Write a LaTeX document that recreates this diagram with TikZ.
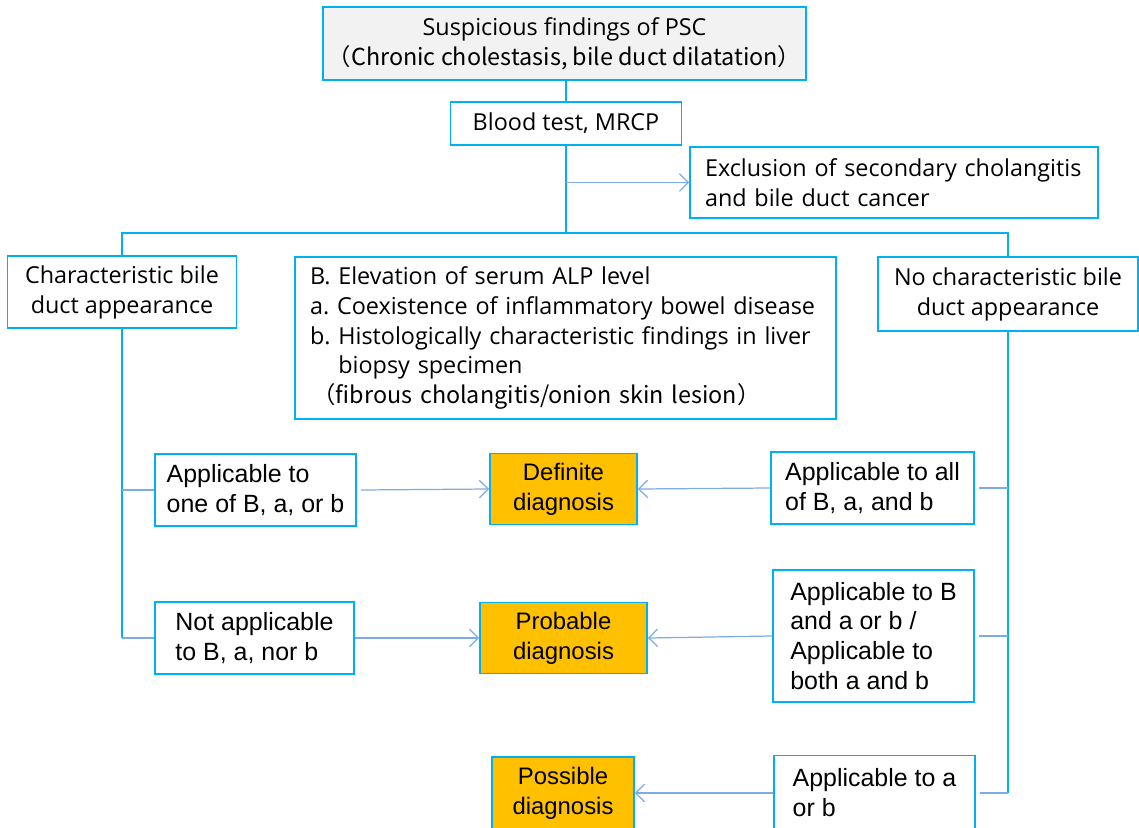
\documentclass[tikz,border=0pt]{standalone}
\usepackage{fontspec}
\setmainfont{Open Sans}
\newfontfamily\arialfont{Liberation Sans}
\newfontfamily\cjk{Noto Sans CJK JP}
\usetikzlibrary{arrows.meta, positioning}
\definecolor{pscblue}{RGB}{0,176,240}
\definecolor{pscarrow}{RGB}{125,172,228}
\definecolor{pscgray}{RGB}{242,242,242}
\definecolor{pscorange}{RGB}{255,192,0}
\frenchspacing

\begin{document}
\begin{tikzpicture}[
    x=0.02cm, y=-0.02cm,
    >={Straight Barb[length=5pt,width=10pt]},
    every node/.style={font=\fontsize{13.3}{17}\selectfont},
    stepbox/.style={rectangle, draw=pscblue, line width=1.1pt, fill=white,
        align=center, inner sep=0pt},
    topbox/.style={stepbox, fill=pscgray},
    leftbox/.style={stepbox, align=left, inner xsep=0.3cm},
    arialbox/.style={stepbox, align=left,
        font=\arialfont\fontsize{14.2}{17}\selectfont},
    diagbox/.style={stepbox, fill=pscorange,
        font=\arialfont\fontsize{13.6}{17}\selectfont},
    trunk/.style={pscblue, line width=1.1pt},
    branch/.style={pscarrow, line width=0.7pt},
    arrow/.style={->, pscarrow, line width=0.7pt},
]
\useasboundingbox (0,0) rectangle (1139,828);

% === WORK-UP ===
\node[topbox, minimum width=9.66cm, minimum height=1.46cm] (suspicious) at (564.5,43.5)
    {Suspicious findings of PSC\\\cjk{（}Chronic cholestasis, bile duct dilatation\cjk{）}};
\node[stepbox, minimum width=4.62cm, minimum height=0.86cm] (blood) at (566,123.5) {Blood test, MRCP};
\node[leftbox, text width=7.56cm, minimum height=1.42cm] (exclusion) at (894,182.5)
    {Exclusion of secondary cholangitis\\and bile duct cancer};

% === BILE DUCT APPEARANCE ===
\node[stepbox, minimum width=4.58cm, minimum height=1.44cm] (charduct) at (122,292)
    {Characteristic bile\\duct appearance};
\node[leftbox, text width=10.22cm, minimum height=3.24cm] (criteria) at (565.5,338)
    {B. Elevation of serum ALP level\\
     a. Coexistence of inflammatory bowel disease\\
     b. Histologically characteristic findings in liver\\
     \phantom{b. }biopsy specimen\\
     \hspace{0.1em}\cjk{（}fibrous cholangitis/onion skin lesion\cjk{）}};
\node[stepbox, minimum width=5.2cm, minimum height=1.48cm] (nochar) at (1008,294)
    {No characteristic bile\\duct appearance};

% === CONDITIONS ===
\node[arialbox, minimum width=4.02cm, minimum height=1.44cm] (oneof) at (255.5,490)
    {Applicable to\\one of B, a, or b};
\node[arialbox, minimum width=3.98cm, minimum height=1.44cm] (notany) at (254.5,638)
    {Not applicable\\to B, a, nor b};
\node[arialbox, minimum width=4.06cm, minimum height=1.44cm] (allof) at (872.5,488)
    {Applicable to all\\of B, a, and b};
\node[arialbox, minimum width=4.02cm, minimum height=2.64cm] (bandab) at (873.5,636)
    {Applicable to B\\and a or b /\\Applicable to\\both a and b};
\node[arialbox, minimum width=4.02cm, minimum height=1.5cm] (aorb) at (874.5,793)
    {Applicable to a\\or b};

% === DIAGNOSES ===
\node[diagbox, minimum width=2.94cm, minimum height=1.42cm] (definite) at (563.5,489) {Definite\\diagnosis};
\node[diagbox, minimum width=3.34cm, minimum height=1.42cm] (probable) at (563.5,638) {Probable\\diagnosis};
\node[diagbox, minimum width=2.84cm, minimum height=1.44cm] (possible) at (563,793) {Possible\\diagnosis};

% === CONNECTORS ===
\coordinate (split) at (566,233);
\draw[trunk] (suspicious.south -| blood.north) -- (blood.north);
\draw[trunk] (blood.south) -- (split);
\draw[trunk] (charduct.north) |- (split) -| (nochar.north);
\draw[arrow] (blood.south |- exclusion.west) -- (exclusion.west);

% left side
\draw[trunk] (charduct.south) -- (charduct.south |- notany.west);
\draw[branch] (charduct.south |- oneof.west) -- (oneof.west);
\draw[branch] (charduct.south |- notany.west) -- (notany.west);
\draw[arrow] (oneof.east) ++(4,0) -- (definite.west);
\draw[arrow] (notany.east) -- (probable.west);

% right side
\draw[trunk] (nochar.south) -- (nochar.south |- aorb.east);
\draw[branch] (allof.east) ++(4,0) -- (allof.east -| nochar.south);
\draw[branch] (bandab.east) ++(4,0) -- (bandab.east -| nochar.south);
\draw[branch] (aorb.east) ++(4,0) -- (aorb.east -| nochar.south);
\draw[arrow] (allof.west) -- (definite.east);
\draw[arrow] (bandab.west) -- (probable.east);
\draw[arrow] (aorb.west) -- (possible.east);

\end{tikzpicture}
\end{document}
